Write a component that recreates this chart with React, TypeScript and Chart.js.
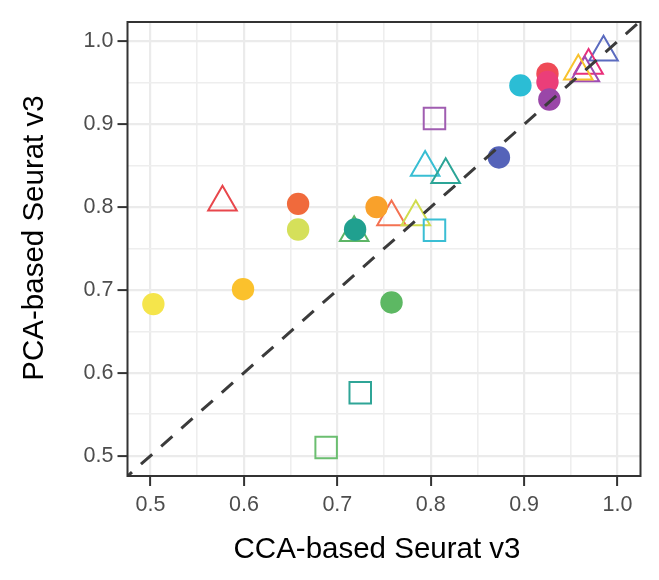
import React, { useEffect, useRef } from 'react';
import { Chart, registerables } from 'chart.js';

Chart.register(...registerables);

// ---- Data ----
const xTickValues = [0.5, 0.55, 0.6, 0.65, 0.7, 0.75, 0.8, 0.85, 0.9, 0.95, 1.0];
const yTickValues = [0.5, 0.55, 0.6, 0.65, 0.7, 0.75, 0.8, 0.85, 0.9, 0.95, 1.0];

const xTitle = 'CCA-based Seurat v3';
const yTitle = 'PCA-based Seurat v3';

// filled circles
const circleX = [0.503, 0.599, 0.658, 0.658, 0.719, 0.742, 0.758, 0.873, 0.896, 0.925, 0.925, 0.927];
const circleY = [0.683, 0.701, 0.804, 0.773, 0.773, 0.800, 0.685, 0.860, 0.947, 0.961, 0.951, 0.930];
const circleColors = [
  '#F5E54B', '#FBC12C', '#F06A3C', '#D5E05A', '#20A08F', '#F9A12B',
  '#5DB863', '#5563B9', '#2BBDD5', '#EF4A57', '#EB3E79', '#9A47A8',
];

// open triangles
const triangleX = [0.577, 0.794, 0.816, 0.758, 0.784, 0.718, 0.985, 0.969, 0.965, 0.958];
const triangleY = [0.806, 0.848, 0.839, 0.788, 0.788, 0.769, 0.987, 0.971, 0.962, 0.964];
const triangleColors = [
  '#E8474C', '#38BED3', '#2CA597', '#F47252', '#D0DC4E', '#5DB566',
  '#5B6BBF', '#E9307A', '#9F4BB3', '#F8C22E',
];

// open squares
const squareX = [0.804, 0.804, 0.7245, 0.688];
const squareY = [0.907, 0.772, 0.576, 0.510];
const squareColors = ['#A05DB1', '#3ABED4', '#2FA597', '#6BBE70'];

// identity line (y = x)
const refLineX = [0.4753, 1.1];
const refLineY = [0.4753, 1.1];

const FONT = '"Liberation Sans", Arial, Helvetica, sans-serif';
const W = 659;
const H = 580;

const isMajor = (v: number) => Math.abs(v * 10 - Math.round(v * 10)) < 1e-6;

const panelBorder = {
  id: 'panelBorder',
  afterDraw(chart: any) {
    const { ctx, chartArea } = chart;
    const { left, top, right, bottom } = chartArea;
    ctx.save();
    ctx.strokeStyle = '#333333';
    ctx.lineWidth = 2;
    ctx.strokeRect(left, top, right - left, bottom - top);
    // axis titles
    ctx.fillStyle = '#000000';
    ctx.font = `29.5px ${FONT}`;
    ctx.textAlign = 'center';
    ctx.textBaseline = 'middle';
    ctx.fillText(xTitle, (left + right) / 2 - 7, 550);
    ctx.translate(35, (top + bottom) / 2 - 11);
    ctx.rotate(-Math.PI / 2);
    ctx.fillText(yTitle, 0, 0);
    ctx.restore();
  },
};

function axisGrid() {
  return {
    color: (c: any) => (c.tick && isMajor(c.tick.value) ? '#EBEBEB' : '#EEEEEE'),
    lineWidth: (c: any) => (c.tick && isMajor(c.tick.value) ? 2.2 : 1.6),
    tickColor: (c: any) => (c.tick && isMajor(c.tick.value) ? '#333333' : 'rgba(0,0,0,0)'),
    tickLength: 10,
    tickWidth: 2,
    drawTicks: true,
  };
}

export default function App() {
  const canvasRef = useRef<HTMLCanvasElement | null>(null);

  useEffect(() => {
    if (!canvasRef.current) return;
    const chart = new Chart(canvasRef.current, {
      type: 'scatter',
      data: {
        datasets: [
          {
            type: 'line',
            data: refLineX.map((x, i) => ({ x, y: refLineY[i] })),
            borderColor: '#3B3B3B',
            borderWidth: 3,
            borderDash: [15, 12],
            borderDashOffset: 9,
            borderCapStyle: 'butt',
            pointRadius: 0,
            fill: false,
          } as any,
          {
            data: circleX.map((x, i) => ({ x, y: circleY[i] })),
            pointStyle: 'circle',
            pointRadius: 11.2,
            pointBorderWidth: 0,
            pointBackgroundColor: circleColors,
            pointBorderColor: circleColors,
          },
          {
            data: squareX.map((x, i) => ({ x, y: squareY[i] })),
            pointStyle: 'rect',
            pointRadius: 15.2,
            pointBorderWidth: 2,
            pointBackgroundColor: 'rgba(0,0,0,0)',
            pointBorderColor: squareColors,
          },
          {
            data: triangleX.map((x, i) => ({ x, y: triangleY[i] })),
            pointStyle: 'triangle',
            pointRadius: 16.5,
            pointBorderWidth: 2,
            pointBackgroundColor: 'rgba(0,0,0,0)',
            pointBorderColor: triangleColors,
          },
        ],
      },
      options: {
        animation: false,
        responsive: false,
        maintainAspectRatio: false,
        devicePixelRatio: 1,
        events: [],
        layout: { padding: { top: 22, right: 2, left: 0, bottom: 0 } },
        plugins: {
          legend: { display: false },
          tooltip: { enabled: false },
        },
        scales: {
          x: {
            type: 'linear',
            min: 0.4753,
            max: 1.0246,
            afterBuildTicks: (s: any) => {
              s.ticks = xTickValues.map((v) => ({ value: v }));
            },
            afterFit: (s: any) => {
              s.height = 104;
            },
            ticks: {
              callback: (v: any) => (isMajor(Number(v)) ? Number(v).toFixed(1) : ''),
              font: { family: FONT, size: 21.5 },
              color: '#4D4D4D',
              padding: 6,
              autoSkip: false,
              maxRotation: 0,
            },
            grid: axisGrid() as any,
            border: { display: false },
          },
          y: {
            type: 'linear',
            min: 0.4755,
            max: 1.0235,
            afterBuildTicks: (s: any) => {
              s.ticks = yTickValues.map((v) => ({ value: v }));
            },
            afterFit: (s: any) => {
              s.width = 127.5;
            },
            ticks: {
              callback: (v: any) => (isMajor(Number(v)) ? Number(v).toFixed(1) : ''),
              font: { family: FONT, size: 21.5 },
              color: '#4D4D4D',
              padding: 4,
              autoSkip: false,
            },
            grid: axisGrid() as any,
            border: { display: false },
          },
        },
      },
      plugins: [panelBorder],
    });
    return () => chart.destroy();
  }, []);

  return (
    <div style={{ position: 'absolute', left: 0, top: 0, width: W, height: H, background: '#ffffff' }}>
      <canvas ref={canvasRef} width={W} height={H} style={{ width: W, height: H, display: 'block' }} />
    </div>
  );
}
